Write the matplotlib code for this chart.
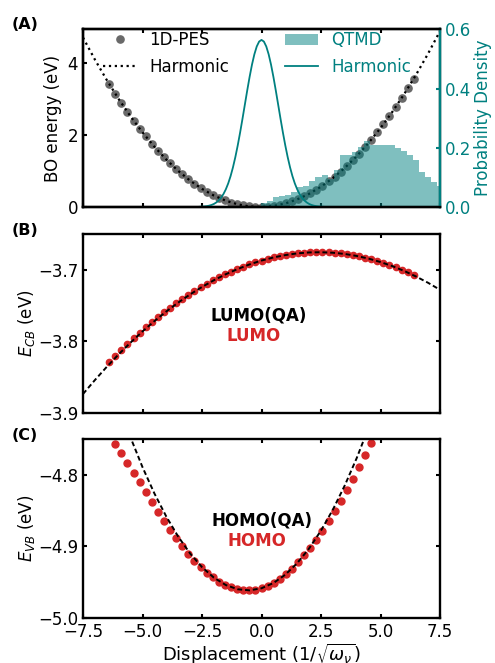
import numpy as np
import matplotlib
matplotlib.use("Agg")
import matplotlib.pyplot as plt

# ---- data ----
# sampled displacements (uniform grid of the 1D scan)
disp = np.linspace(-6.4, 6.4, 51)

# (A) BO energy along the scan
pes_energy = [3.426, 3.154, 2.894, 2.645, 2.407, 2.180, 1.965, 1.761, 1.568, 1.386,
              1.215, 1.056, 0.908, 0.771, 0.645, 0.530, 0.427, 0.334, 0.254, 0.184,
              0.125, 0.078, 0.042, 0.017, 0.003, 0.000, 0.009, 0.029, 0.060, 0.102,
              0.156, 0.221, 0.296, 0.384, 0.482, 0.591, 0.712, 0.844, 0.987, 1.142,
              1.307, 1.484, 1.672, 1.871, 2.081, 2.303, 2.536, 2.780, 3.035, 3.301,
              3.579]

harm_x = np.arange(-7.5, 7.51, 0.5)
harm_energy = [4.720, 4.106, 3.535, 3.006, 2.521, 2.078, 1.678, 1.321, 1.006, 0.734,
               0.505, 0.318, 0.175, 0.074, 0.016, 0.000, 0.028, 0.098, 0.211, 0.366,
               0.565, 0.806, 1.090, 1.416, 1.786, 2.198, 2.653, 3.150, 3.691, 4.274,
               4.900]

# harmonic ground-state density
dens_x = np.arange(-2.6, 2.61, 0.1)
_half = [0.5642, 0.5586, 0.5421, 0.5156, 0.4808, 0.4394, 0.3936, 0.3456, 0.2975,
         0.2510, 0.2076, 0.1683, 0.1337, 0.1041, 0.0795, 0.0595, 0.0436, 0.0314,
         0.0221, 0.0153, 0.0103, 0.0069, 0.0045, 0.0028, 0.0018, 0.0011, 0.0007]
dens_harm = _half[::-1] + _half[1:]

# QTMD histogram
qtmd_edges = np.arange(32) * 0.256 - 0.295
qtmd_vals = [0.005, 0.015, 0.020, 0.033, 0.037, 0.042, 0.050, 0.068, 0.072, 0.087,
             0.100, 0.108, 0.095, 0.125, 0.175, 0.175, 0.186, 0.203, 0.222, 0.210,
             0.210, 0.210, 0.208, 0.200, 0.190, 0.175, 0.160, 0.118, 0.100, 0.085,
             0.070]

# (B) LUMO
lumo = [-3.8294, -3.8206, -3.8120, -3.8036, -3.7955, -3.7877, -3.7802, -3.7730,
        -3.7660, -3.7592, -3.7528, -3.7465, -3.7406, -3.7349, -3.7295, -3.7243,
        -3.7194, -3.7148, -3.7105, -3.7064, -3.7026, -3.6991, -3.6958, -3.6926,
        -3.6898, -3.6871, -3.6848, -3.6827, -3.6809, -3.6793, -3.6780, -3.6770,
        -3.6763, -3.6757, -3.6755, -3.6756, -3.6758, -3.6764, -3.6772, -3.6783,
        -3.6797, -3.6813, -3.6832, -3.6853, -3.6878, -3.6904, -3.6934, -3.6966,
        -3.7001, -3.7038, -3.7078]
lumo_qa_x = np.arange(-7.5, 7.51, 0.5)
lumo_qa = [-3.8735, -3.8540, -3.8355, -3.8180, -3.8016, -3.7861, -3.7717, -3.7582,
           -3.7458, -3.7344, -3.7240, -3.7146, -3.7062, -3.6989, -3.6925, -3.6871,
           -3.6828, -3.6795, -3.6771, -3.6758, -3.6755, -3.6762, -3.6779, -3.6807,
           -3.6844, -3.6892, -3.6949, -3.7017, -3.7095, -3.7182, -3.7280]

# (C) HOMO (only points inside the window)
homo_x = disp[1:44]
homo = [-4.7568, -4.7698, -4.7833, -4.7969, -4.8107, -4.8244, -4.8381, -4.8514,
        -4.8643, -4.8767, -4.8887, -4.8998, -4.9103, -4.9199, -4.9287, -4.9365,
        -4.9433, -4.9491, -4.9538, -4.9574, -4.9599, -4.9613, -4.9614, -4.9605,
        -4.9583, -4.9550, -4.9507, -4.9452, -4.9386, -4.9309, -4.9222, -4.9126,
        -4.9019, -4.8904, -4.8780, -4.8648, -4.8509, -4.8363, -4.8211, -4.8053,
        -4.7891, -4.7725, -4.7557]
homo_qa_x = np.arange(-6.0, 5.01, 0.5)
homo_qa = [-4.7027, -4.7482, -4.7894, -4.8261, -4.8584, -4.8864, -4.9099, -4.9290,
           -4.9437, -4.9540, -4.9599, -4.9614, -4.9585, -4.9512, -4.9395, -4.9234,
           -4.9029, -4.8779, -4.8486, -4.8148, -4.7767, -4.7341, -4.6872]

RED = "#d62728"
TEAL = "teal"
FS = 12

plt.rcParams.update({
    "font.size": FS,
    "axes.linewidth": 1.7,
    "xtick.direction": "in",
    "ytick.direction": "in",
    "xtick.major.size": 3,
    "ytick.major.size": 3,
    "xtick.major.width": 1.5,
    "ytick.major.width": 1.5,
})

fig = plt.figure(figsize=(4.95, 6.63), dpi=100)
L, W = 0.1677, 0.7212
axA = fig.add_axes([L, 0.6878, W, 0.268])
axB = fig.add_axes([L, 0.3771, W, 0.270])
axC = fig.add_axes([L, 0.0679, W, 0.270])

xticks = [-7.5, -5.0, -2.5, 0.0, 2.5, 5.0, 7.5]
for ax in (axA, axB, axC):
    ax.set_xlim(-7.5, 7.5)
    ax.set_xticks(xticks)
    ax.tick_params(labelsize=FS, top=True)

# ---- (A) ----
axA.plot(disp, pes_energy, "o", color="dimgray", ms=5.2, label="1D-PES", zorder=2)
axA.plot(harm_x, harm_energy, ":", color="k", lw=1.6, label="Harmonic", zorder=3)
axA.set_ylim(0, 4.95)
axA.set_yticks([0, 2, 4])
axA.set_ylabel("BO energy (eV)", fontsize=FS)
axA.tick_params(labelbottom=False, right=False)
axA.legend(loc="upper left", bbox_to_anchor=(0.037, 1.027), borderaxespad=0,
           frameon=False, fontsize=FS)

axA2 = axA.twinx()
axA2.stairs(qtmd_vals, qtmd_edges, fill=True, color=TEAL, alpha=0.5, lw=0, label="QTMD")
axA2.plot(dens_x, dens_harm, "-", color=TEAL, lw=1.3, label="Harmonic")
axA2.set_ylim(0, 0.6)
axA2.set_yticks([0.0, 0.2, 0.4, 0.6])
axA2.set_ylabel("Probability Density", color=TEAL, fontsize=FS, labelpad=2)
axA2.tick_params(axis="y", colors=TEAL, labelsize=FS, direction="in")
axA2.spines["right"].set_color(TEAL)
axA2.legend(loc="upper left", bbox_to_anchor=(0.547, 1.027), borderaxespad=0,
            frameon=False, fontsize=FS, labelcolor=TEAL)

# ---- (B) ----
axB.plot(disp, lumo, "o", color=RED, ms=4.5, zorder=2)
axB.plot(lumo_qa_x, lumo_qa, color="k", lw=1.4, dashes=(2.5, 1.5), zorder=3)
axB.set_ylim(-3.9, -3.65)
axB.set_yticks([-3.9, -3.8, -3.7])
axB.set_ylabel("$E_{CB}$ (eV)", fontsize=FS, labelpad=1)
axB.tick_params(labelbottom=False, right=True)
axB.text(0.493, 0.547, "LUMO(QA)", transform=axB.transAxes, ha="center", va="center",
         fontsize=FS, fontweight="bold", color="k")
axB.text(0.478, 0.432, "LUMO", transform=axB.transAxes, ha="center", va="center",
         fontsize=FS, fontweight="bold", color=RED)

# ---- (C) ----
axC.plot(homo_x, homo, "o", color=RED, ms=5, zorder=2)
axC.plot(homo_qa_x, homo_qa, color="k", lw=1.4, dashes=(2.5, 1.5), zorder=3)
axC.set_ylim(-5.0, -4.75)
axC.set_yticks([-5.0, -4.9, -4.8])
axC.set_ylabel("$E_{VB}$ (eV)", fontsize=FS, labelpad=1)
axC.tick_params(right=True)
axC.set_xlabel(r"Displacement $(1/\sqrt{\omega_\nu})$", fontsize=13, labelpad=1)
axC.text(0.5, 0.547, "HOMO(QA)", transform=axC.transAxes, ha="center", va="center",
         fontsize=FS, fontweight="bold", color="k")
axC.text(0.486, 0.432, "HOMO", transform=axC.transAxes, ha="center", va="center",
         fontsize=FS, fontweight="bold", color=RED)

# panel letters
for lab, ytop in (("(A)", 17), ("(B)", 223), ("(C)", 428)):
    fig.text(12 / 495, 1 - ytop / 663, lab, ha="left", va="top",
             fontsize=11.5, fontweight="bold")

fig.savefig("out.png", dpi=100)
